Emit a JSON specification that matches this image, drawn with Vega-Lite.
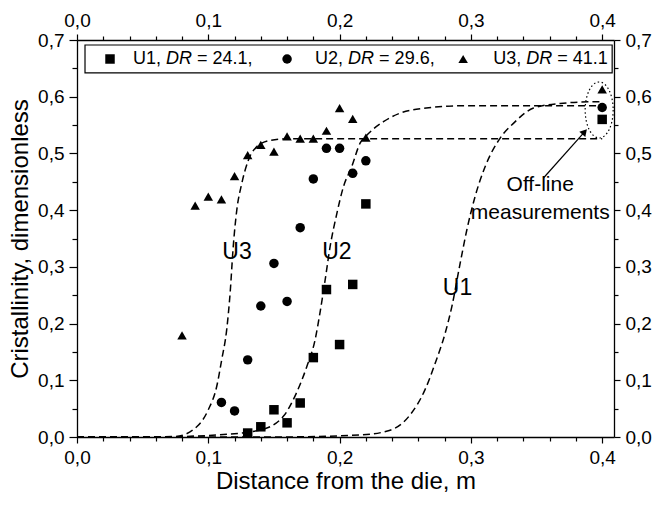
{
  "$schema": "https://vega.github.io/schema/vega-lite/v6.json",
  "width": 537,
  "height": 397,
  "autosize": {"type": "none"},
  "padding": {"left": 77, "top": 40, "right": 44, "bottom": 71},
  "background": "white",
  "config": {
    "view": {"stroke": null},
    "font": "Liberation Sans",
    "axis": {
      "grid": false,
      "domainColor": "black",
      "domainWidth": 1.3,
      "tickColor": "black",
      "tickWidth": 1.2,
      "labelColor": "black",
      "titleColor": "black",
      "labelFont": "Liberation Sans",
      "titleFont": "Liberation Sans",
      "labelFontSize": 19,
      "titleFontSize": 24,
      "titleFontWeight": "normal",
      "labelFlush": false,
      "labelOverlap": false
    }
  },
  "resolve": {"axis": {"x": "independent", "y": "independent"}},
  "datasets": {
    "pts": [
      {"series": "U1", "x": 0.13, "y": 0.007}, {"series": "U1", "x": 0.14, "y": 0.018}, {"series": "U1", "x": 0.15, "y": 0.048},
      {"series": "U1", "x": 0.16, "y": 0.025}, {"series": "U1", "x": 0.17, "y": 0.060}, {"series": "U1", "x": 0.18, "y": 0.140},
      {"series": "U1", "x": 0.19, "y": 0.260}, {"series": "U1", "x": 0.20, "y": 0.163}, {"series": "U1", "x": 0.21, "y": 0.269},
      {"series": "U1", "x": 0.22, "y": 0.411}, {"series": "U1", "x": 0.40, "y": 0.560},
      {"series": "U2", "x": 0.11, "y": 0.061}, {"series": "U2", "x": 0.12, "y": 0.046}, {"series": "U2", "x": 0.13, "y": 0.136},
      {"series": "U2", "x": 0.14, "y": 0.231}, {"series": "U2", "x": 0.15, "y": 0.306}, {"series": "U2", "x": 0.16, "y": 0.239},
      {"series": "U2", "x": 0.17, "y": 0.369}, {"series": "U2", "x": 0.18, "y": 0.455}, {"series": "U2", "x": 0.19, "y": 0.509},
      {"series": "U2", "x": 0.20, "y": 0.509}, {"series": "U2", "x": 0.21, "y": 0.465}, {"series": "U2", "x": 0.22, "y": 0.487},
      {"series": "U2", "x": 0.40, "y": 0.581},
      {"series": "U3", "x": 0.08, "y": 0.179}, {"series": "U3", "x": 0.09, "y": 0.408}, {"series": "U3", "x": 0.10, "y": 0.424},
      {"series": "U3", "x": 0.11, "y": 0.419}, {"series": "U3", "x": 0.12, "y": 0.460}, {"series": "U3", "x": 0.13, "y": 0.497},
      {"series": "U3", "x": 0.14, "y": 0.515}, {"series": "U3", "x": 0.15, "y": 0.503}, {"series": "U3", "x": 0.16, "y": 0.530},
      {"series": "U3", "x": 0.17, "y": 0.526}, {"series": "U3", "x": 0.18, "y": 0.526}, {"series": "U3", "x": 0.19, "y": 0.540},
      {"series": "U3", "x": 0.20, "y": 0.580}, {"series": "U3", "x": 0.21, "y": 0.561}, {"series": "U3", "x": 0.22, "y": 0.528},
      {"series": "U3", "x": 0.40, "y": 0.613}
    ],
    "curves": [
      {"c": "U3", "x": 0, "y": 0}, {"c": "U3", "x": 0.05, "y": 0}, {"c": "U3", "x": 0.075, "y": 0.001},
      {"c": "U3", "x": 0.0912, "y": 0.018}, {"c": "U3", "x": 0.1, "y": 0.048}, {"c": "U3", "x": 0.1064, "y": 0.089},
      {"c": "U3", "x": 0.1102, "y": 0.136}, {"c": "U3", "x": 0.114, "y": 0.189}, {"c": "U3", "x": 0.1166, "y": 0.253},
      {"c": "U3", "x": 0.119, "y": 0.336}, {"c": "U3", "x": 0.1217, "y": 0.4}, {"c": "U3", "x": 0.1255, "y": 0.447},
      {"c": "U3", "x": 0.1305, "y": 0.488}, {"c": "U3", "x": 0.137, "y": 0.512}, {"c": "U3", "x": 0.147, "y": 0.523},
      {"c": "U3", "x": 0.1623, "y": 0.526}, {"c": "U3", "x": 0.25, "y": 0.526}, {"c": "U3", "x": 0.4, "y": 0.526},
      {"c": "U2", "x": 0, "y": 0}, {"c": "U2", "x": 0.0556, "y": 0}, {"c": "U2", "x": 0.106, "y": 0.0035},
      {"c": "U2", "x": 0.139, "y": 0.012}, {"c": "U2", "x": 0.157, "y": 0.036}, {"c": "U2", "x": 0.167, "y": 0.077},
      {"c": "U2", "x": 0.175, "y": 0.124}, {"c": "U2", "x": 0.1813, "y": 0.171}, {"c": "U2", "x": 0.185, "y": 0.218},
      {"c": "U2", "x": 0.189, "y": 0.277}, {"c": "U2", "x": 0.1928, "y": 0.336}, {"c": "U2", "x": 0.1979, "y": 0.394},
      {"c": "U2", "x": 0.2029, "y": 0.441}, {"c": "U2", "x": 0.2093, "y": 0.477}, {"c": "U2", "x": 0.2156, "y": 0.518},
      {"c": "U2", "x": 0.2207, "y": 0.532}, {"c": "U2", "x": 0.2334, "y": 0.556}, {"c": "U2", "x": 0.246, "y": 0.571},
      {"c": "U2", "x": 0.266, "y": 0.58}, {"c": "U2", "x": 0.292, "y": 0.584}, {"c": "U2", "x": 0.35, "y": 0.584},
      {"c": "U2", "x": 0.4, "y": 0.584},
      {"c": "U1", "x": 0, "y": 0}, {"c": "U1", "x": 0.15, "y": 0}, {"c": "U1", "x": 0.2156, "y": 0.0035},
      {"c": "U1", "x": 0.2385, "y": 0.012}, {"c": "U1", "x": 0.2537, "y": 0.039}, {"c": "U1", "x": 0.265, "y": 0.083},
      {"c": "U1", "x": 0.2728, "y": 0.13}, {"c": "U1", "x": 0.2804, "y": 0.183}, {"c": "U1", "x": 0.2855, "y": 0.23},
      {"c": "U1", "x": 0.2918, "y": 0.306}, {"c": "U1", "x": 0.2969, "y": 0.365}, {"c": "U1", "x": 0.3032, "y": 0.424},
      {"c": "U1", "x": 0.3109, "y": 0.477}, {"c": "U1", "x": 0.3223, "y": 0.527}, {"c": "U1", "x": 0.3324, "y": 0.553},
      {"c": "U1", "x": 0.3477, "y": 0.58}, {"c": "U1", "x": 0.368, "y": 0.588}, {"c": "U1", "x": 0.393, "y": 0.591},
      {"c": "U1", "x": 0.4, "y": 0.591}
    ],
    "legbox": [{"x1": 0.0061, "x2": 0.4076, "y1": 0.6419, "y2": 0.6912}],
    "legsym": [
      {"series": "U1", "x": 0.02514, "y": 0.6665},
      {"series": "U2", "x": 0.16, "y": 0.6665},
      {"series": "U3", "x": 0.2941, "y": 0.6665}
    ],
    "legtxt": [
      {"t": "U1,", "x": 0.04267, "y": 0.6665}, {"t": "= 24.1,", "x": 0.09143, "y": 0.6665},
      {"t": "U2,", "x": 0.18133, "y": 0.6665}, {"t": "= 29.6,", "x": 0.2301, "y": 0.6665},
      {"t": "U3,", "x": 0.31695, "y": 0.6665}, {"t": "= 41.1", "x": 0.36571, "y": 0.6665}
    ],
    "legit": [
      {"t": "DR", "x": 0.06781, "y": 0.6665},
      {"t": "DR", "x": 0.20648, "y": 0.6665},
      {"t": "DR", "x": 0.3421, "y": 0.6665}
    ],
    "clabels": [
      {"t": "U3", "x": 0.1219, "y": 0.3268},
      {"t": "U2", "x": 0.1979, "y": 0.3268},
      {"t": "U1", "x": 0.2898, "y": 0.2622}
    ],
    "notes": [
      {"t": "Off-line", "x": 0.3528, "y": 0.4444},
      {"t": "measurements", "x": 0.3528, "y": 0.3945}
    ],
    "arrow": [{"x": 0.3551, "y": 0.4562}, {"x": 0.3866, "y": 0.538}],
    "head": [{"x": 0.3866, "y": 0.538}],
    "ellipse": [{"x": 0.3977, "y": 0.5766}]
  },
  "layer": [
    {
      "data": {"name": "legbox"},
      "mark": {"type": "rect", "fill": "white", "stroke": "black", "strokeWidth": 1.2},
      "encoding": {
        "x": {"field": "x1", "type": "quantitative", "scale": {"domain": [0, 0.409], "nice": false, "zero": false},
          "axis": {"orient": "bottom", "values": [0.02, 0.04, 0.06, 0.08, 0.12, 0.14, 0.16, 0.18, 0.22, 0.24, 0.26, 0.28, 0.32, 0.34, 0.36, 0.38], "labels": false, "domain": false, "tickSize": 4, "title": null}},
        "x2": {"field": "x2"},
        "y": {"field": "y1", "type": "quantitative", "scale": {"domain": [0, 0.7], "nice": false, "zero": false},
          "axis": {"orient": "left", "values": [0.05, 0.15, 0.25, 0.35, 0.45, 0.55, 0.65], "labels": false, "domain": false, "tickSize": 5, "title": null}},
        "y2": {"field": "y2"}
      }
    },
    {
      "data": {"name": "curves"},
      "mark": {"type": "line", "color": "black", "strokeDash": [7, 4], "strokeWidth": 1.5, "interpolate": "monotone"},
      "encoding": {
        "x": {"field": "x", "type": "quantitative", "scale": {"domain": [0, 0.409], "nice": false, "zero": false},
          "axis": {"orient": "top", "values": [0, 0.1, 0.2, 0.3, 0.4], "labelExpr": "replace(format(datum.value, '.1f'), '.', ',')", "tickSize": 6, "labelPadding": 4, "title": null}},
        "y": {"field": "y", "type": "quantitative", "scale": {"domain": [0, 0.7], "nice": false, "zero": false},
          "axis": {"orient": "right", "values": [0, 0.1, 0.2, 0.3, 0.4, 0.5, 0.6, 0.7], "labelExpr": "replace(format(datum.value, '.1f'), '.', ',')", "tickSize": 6, "labelPadding": 5, "title": null}},
        "detail": {"field": "c", "type": "nominal"}
      }
    },
    {
      "data": {"name": "pts"},
      "mark": {"type": "point", "filled": true, "color": "black", "opacity": 1},
      "encoding": {
        "x": {"field": "x", "type": "quantitative", "scale": {"domain": [0, 0.409], "nice": false, "zero": false},
          "axis": {"orient": "bottom", "values": [0, 0.1, 0.2, 0.3, 0.4], "labelExpr": "replace(format(datum.value, '.1f'), '.', ',')", "tickSize": 6, "labelPadding": 5, "title": "Distance from the die, m", "titlePadding": 2}},
        "y": {"field": "y", "type": "quantitative", "scale": {"domain": [0, 0.7], "nice": false, "zero": false},
          "axis": {"orient": "left", "values": [0, 0.1, 0.2, 0.3, 0.4, 0.5, 0.6, 0.7], "labelExpr": "replace(format(datum.value, '.1f'), '.', ',')", "tickSize": 8, "labelPadding": 5, "title": "Cristallinity, dimensionless", "titlePadding": 5}},
        "shape": {"field": "series", "type": "nominal", "scale": {"domain": ["U1", "U2", "U3"], "range": ["square", "circle", "triangle-up"]}, "legend": null},
        "size": {"field": "series", "type": "ordinal", "scale": {"domain": ["U1", "U2", "U3"], "range": [90, 90, 140]}, "legend": null}
      }
    },
    {
      "data": {"name": "legsym"},
      "mark": {"type": "point", "filled": true, "color": "black", "opacity": 1},
      "encoding": {
        "x": {"field": "x", "type": "quantitative", "scale": {"domain": [0, 0.409], "nice": false, "zero": false},
          "axis": {"orient": "top", "values": [0.02, 0.04, 0.06, 0.08, 0.12, 0.14, 0.16, 0.18, 0.22, 0.24, 0.26, 0.28, 0.32, 0.34, 0.36, 0.38], "labels": false, "domain": false, "tickSize": 4, "title": null}},
        "y": {"field": "y", "type": "quantitative", "scale": {"domain": [0, 0.7], "nice": false, "zero": false},
          "axis": {"orient": "right", "values": [0.05, 0.15, 0.25, 0.35, 0.45, 0.55, 0.65], "labels": false, "domain": false, "tickSize": 4, "title": null}},
        "shape": {"field": "series", "type": "nominal", "legend": null},
        "size": {"field": "series", "type": "ordinal", "legend": null}
      }
    },
    {
      "data": {"name": "legtxt"},
      "mark": {"type": "text", "align": "left", "baseline": "middle", "fontSize": 18, "font": "Liberation Sans", "color": "black"},
      "encoding": {
        "x": {"field": "x", "type": "quantitative", "axis": null},
        "y": {"field": "y", "type": "quantitative", "axis": null},
        "text": {"field": "t"}
      }
    },
    {
      "data": {"name": "legit"},
      "mark": {"type": "text", "align": "left", "baseline": "middle", "fontSize": 18, "fontStyle": "italic", "font": "Liberation Sans", "color": "black"},
      "encoding": {
        "x": {"field": "x", "type": "quantitative", "axis": null},
        "y": {"field": "y", "type": "quantitative", "axis": null},
        "text": {"field": "t"}
      }
    },
    {
      "data": {"name": "clabels"},
      "mark": {"type": "text", "align": "center", "baseline": "middle", "fontSize": 23, "font": "Liberation Sans", "color": "black"},
      "encoding": {
        "x": {"field": "x", "type": "quantitative", "axis": null},
        "y": {"field": "y", "type": "quantitative", "axis": null},
        "text": {"field": "t"}
      }
    },
    {
      "data": {"name": "notes"},
      "mark": {"type": "text", "align": "center", "baseline": "middle", "fontSize": 21, "font": "Liberation Sans", "color": "black"},
      "encoding": {
        "x": {"field": "x", "type": "quantitative", "axis": null},
        "y": {"field": "y", "type": "quantitative", "axis": null},
        "text": {"field": "t"}
      }
    },
    {
      "data": {"name": "arrow"},
      "mark": {"type": "line", "color": "black", "strokeWidth": 1.2},
      "encoding": {
        "x": {"field": "x", "type": "quantitative", "axis": null},
        "y": {"field": "y", "type": "quantitative", "axis": null}
      }
    },
    {
      "data": {"name": "head"},
      "mark": {"type": "point", "shape": "triangle-up", "filled": true, "color": "black", "opacity": 1, "size": 64, "angle": 41.5},
      "encoding": {
        "x": {"field": "x", "type": "quantitative", "axis": null},
        "y": {"field": "y", "type": "quantitative", "axis": null}
      }
    },
    {
      "data": {"name": "ellipse"},
      "mark": {"type": "point", "shape": "M 0.5 0 C 0.5 0.5523 0.2761 1 0 1 C -0.2761 1 -0.5 0.5523 -0.5 0 C -0.5 -0.5523 -0.2761 -1 0 -1 C 0.2761 -1 0.5 -0.5523 0.5 0 Z", "filled": false, "stroke": "black", "strokeWidth": 1.2, "strokeDash": [1.5, 2.5], "size": 3136, "opacity": 1},
      "encoding": {
        "x": {"field": "x", "type": "quantitative", "axis": null},
        "y": {"field": "y", "type": "quantitative", "axis": null}
      }
    }
  ]
}
